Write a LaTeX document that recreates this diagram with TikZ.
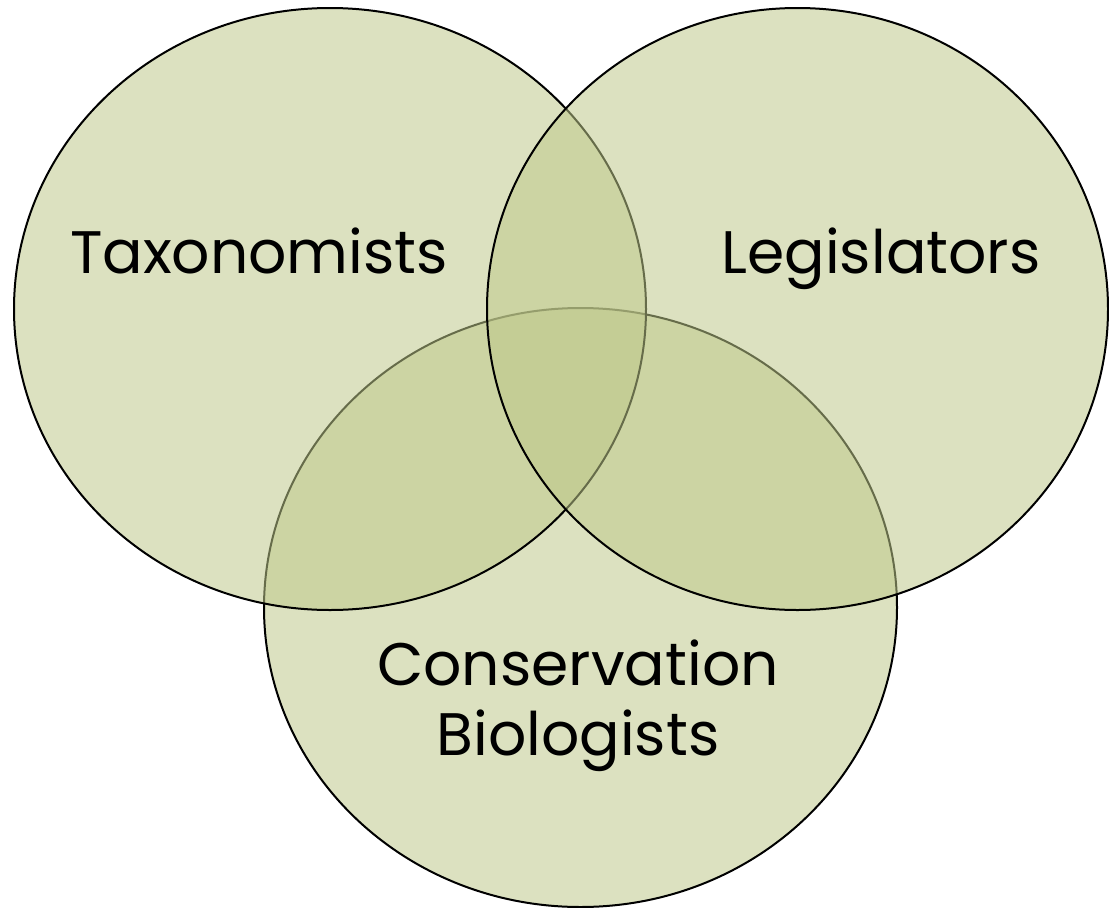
\documentclass[tikz,border=0pt]{standalone}
\usepackage{fontspec}
\setmainfont{Poppins}
\usetikzlibrary{shapes.geometric}
\definecolor{setfill}{RGB}{190,200,138}
\tikzset{
  setcircle/.style={ellipse, draw=black, line width=2pt, fill=setfill, fill opacity=0.54, draw opacity=1, inner sep=0pt, outer sep=0pt},
  setlabel/.style={font=\fontsize{60}{70}\selectfont, text=black, inner sep=0pt, align=center}
}
\begin{document}
\begin{tikzpicture}[x=1pt,y=-1pt]
\useasboundingbox (0,0) rectangle (1109,908);
\node[setcircle, minimum width=633pt, minimum height=599pt] (cons) at (580.5,607.5) {};
\node[setcircle, minimum width=632pt, minimum height=602pt] (tax) at (330,309) {};
\node[setcircle, minimum width=621pt, minimum height=602pt] (leg) at (797.5,309) {};
\node[setlabel, anchor=base] (taxl) at (259,273) {Taxonomists};
\node[setlabel, anchor=base] (legl) at (881,273) {Legislators};
\node[setlabel, anchor=base] (consl) at (578,685) {Conservation};
\node[setlabel, anchor=base] (biol) at (578,755) {Biologists};
\end{tikzpicture}
\end{document}
